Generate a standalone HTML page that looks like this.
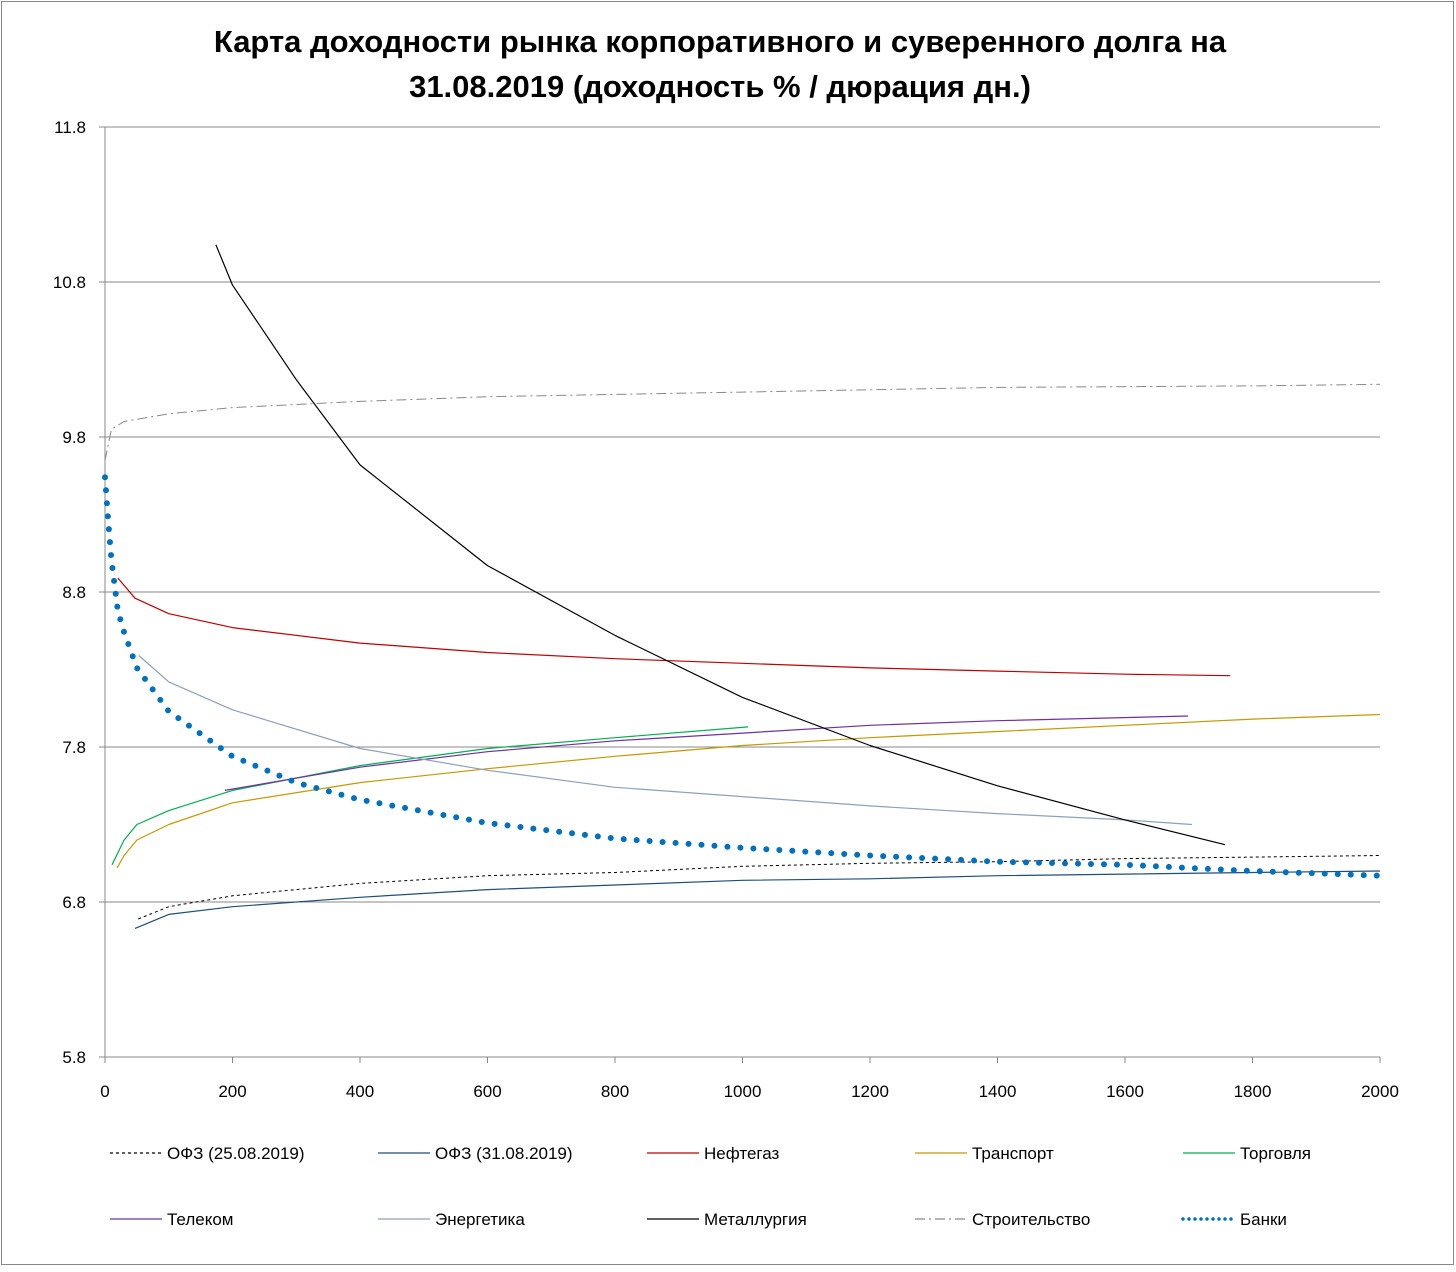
<!DOCTYPE html>
<html><head><meta charset="utf-8"><style>
body{margin:0;background:#fff}
svg text{font-family:"Liberation Sans","DejaVu Sans",sans-serif}
</style></head><body>
<svg id="chart" width="1456" height="1267" xmlns="http://www.w3.org/2000/svg">
<rect x="1.5" y="1.5" width="1452" height="1263" fill="#fff" stroke="#888" stroke-width="1"/>
<text x="720" y="52" text-anchor="middle" font-size="31" font-weight="bold">Карта доходности рынка корпоративного и суверенного долга на</text>
<text x="720" y="97" text-anchor="middle" font-size="31" font-weight="bold">31.08.2019 (доходность % / дюрация дн.)</text>
<g id="grid"></g><g id="series"></g><g id="legend"></g>
</svg>
<script>
const yTicks=[5.8,6.8,7.8,8.8,9.8,10.8,11.8];
const xTicks=[0,200,400,600,800,1000,1200,1400,1600,1800,2000];
const ofz25D=[52,100,200,400,600,800,1000,1200,1400,1600,1800,2000];
const ofz25V=[6.69,6.77,6.84,6.92,6.97,6.99,7.03,7.05,7.06,7.08,7.09,7.10];
const ofz31D=[47,100,200,400,600,800,1000,1200,1400,1600,1800,2000];
const ofz31V=[6.63,6.72,6.77,6.83,6.88,6.91,6.94,6.95,6.97,6.98,6.99,7.0];
const neftD=[20,47,100,200,400,600,800,1000,1200,1400,1600,1765];
const neftV=[8.89,8.76,8.66,8.57,8.47,8.41,8.37,8.34,8.31,8.29,8.27,8.26];
const transD=[19,30,50,100,200,400,600,800,1000,1200,1400,1600,1800,2000];
const transV=[7.02,7.10,7.20,7.30,7.44,7.57,7.66,7.74,7.81,7.86,7.90,7.94,7.98,8.01];
const torgD=[11,30,50,100,200,400,600,800,1009];
const torgV=[7.04,7.20,7.30,7.39,7.52,7.68,7.79,7.86,7.93];
const telD=[188,400,600,800,1000,1200,1400,1699];
const telV=[7.52,7.67,7.77,7.84,7.89,7.94,7.97,8.0];
const enD=[53,100,200,400,600,800,1000,1200,1400,1600,1705];
const enV=[8.39,8.22,8.04,7.79,7.65,7.54,7.48,7.42,7.37,7.33,7.30];
const metD=[174,200,300,400,600,800,1000,1200,1400,1600,1757];
const metV=[11.04,10.78,10.17,9.62,8.97,8.52,8.12,7.81,7.55,7.33,7.17];
const strD=[0,10,30,100,200,400,600,1000,1400,1800,2000];
const strV=[9.65,9.85,9.90,9.95,9.99,10.03,10.06,10.09,10.12,10.13,10.14];
const bankD=[0,5,10,20,30,50,100,200,300,400,600,800,1000,1200,1400,1600,1800,2000];
const bankV=[9.54,9.26,9.01,8.68,8.54,8.31,8.03,7.74,7.57,7.46,7.31,7.21,7.15,7.10,7.06,7.04,7.0,6.97];

const X0=105,X1=1380,Y0=1057,Y1=127;
const sx=d=>X0+(d-0)/(2000-0)*(X1-X0);
const sy=v=>Y0-(v-5.8)/(11.8-5.8)*(Y0-Y1);
const NS="http://www.w3.org/2000/svg";
function mk(tag,parent,attrs){const e=document.createElementNS(NS,tag);for(const k in attrs)e.setAttribute(k,attrs[k]);parent.appendChild(e);return e;}
const grid=document.getElementById('grid');
yTicks.forEach(v=>{
  const l=mk('line',grid,{x1:99,x2:X1,y1:sy(v),y2:sy(v),stroke:'#888','stroke-width':1});
  
  
  const t=mk('text',grid,{x:86,y:sy(v)+6,'text-anchor':'end','font-size':17});
  
  
  t.textContent=v.toFixed(1);
});
const ax=mk('line',grid,{x1:X0,x2:X0,y1:Y1,y2:Y0+6,stroke:'#888','stroke-width':1});


xTicks.forEach(d=>{
  const tk=mk('line',grid,{x1:sx(d),x2:sx(d),y1:Y0,y2:Y0+6,stroke:'#888'});
  
  
  const t=mk('text',grid,{x:sx(d),y:1097,'text-anchor':'middle','font-size':17});
  
  
  t.textContent=d;
});
const series=[
 {n:'ОФЗ (25.08.2019)',k:'ofz-25-08',d:ofz25D,v:ofz25V,c:'#000',w:1,da:'3 3'},
 {n:'ОФЗ (31.08.2019)',k:'ofz-31-08',d:ofz31D,v:ofz31V,c:'#1f4e79',w:1.2,da:''},
 {n:'Нефтегаз',k:'neftegaz',d:neftD,v:neftV,c:'#c00000',w:1.2,da:''},
 {n:'Транспорт',k:'transport',d:transD,v:transV,c:'#c89800',w:1.2,da:''},
 {n:'Торговля',k:'torgovlya',d:torgD,v:torgV,c:'#00b050',w:1.2,da:''},
 {n:'Телеком',k:'telekom',d:telD,v:telV,c:'#7030a0',w:1.2,da:''},
 {n:'Энергетика',k:'energetika',d:enD,v:enV,c:'#8ea0bc',w:1.2,da:''},
 {n:'Металлургия',k:'metallurgiya',d:metD,v:metV,c:'#000',w:1.2,da:''},
 {n:'Строительство',k:'stroitelstvo',d:strD,v:strV,c:'#888',w:1,da:'10 4 2 4'},
 {n:'Банки',k:'banki',d:bankD,v:bankV,c:'#0070c0',w:6,da:'0 13',cap:'round'}
];
const sg=document.getElementById('series');
series.forEach(s=>{
  const pts=s.d.map((d,i)=>sx(d).toFixed(1)+','+sy(s.v[i]).toFixed(1)).join(' ');
  const p=mk('polyline',sg,{points:pts,fill:'none',stroke:s.c,'stroke-width':s.w,'stroke-linejoin':'round'});
  if(s.da)p.setAttribute('stroke-dasharray',s.da);
  if(s.cap)p.setAttribute('stroke-linecap',s.cap);
  
  
});
const lg=document.getElementById('legend');
const colX=[110,378,647,915,1183];
series.forEach((s,i)=>{
  const x=colX[i%5],y=i<5?1153:1219;
  const g=mk('g',lg,{});
  
  
  const l=mk('line',g,{x1:x,x2:x+52,y1:y,y2:y,stroke:s.c,'stroke-width':s.cap?3.5:1.3});
  if(s.da)l.setAttribute('stroke-dasharray',s.cap?'0 6':s.da);
  if(s.cap)l.setAttribute('stroke-linecap','round');
  
  
  const t=mk('text',g,{x:x+57,y:y+6,'font-size':17});
  
  
  t.textContent=s.n;
});
</script>
</body></html>
